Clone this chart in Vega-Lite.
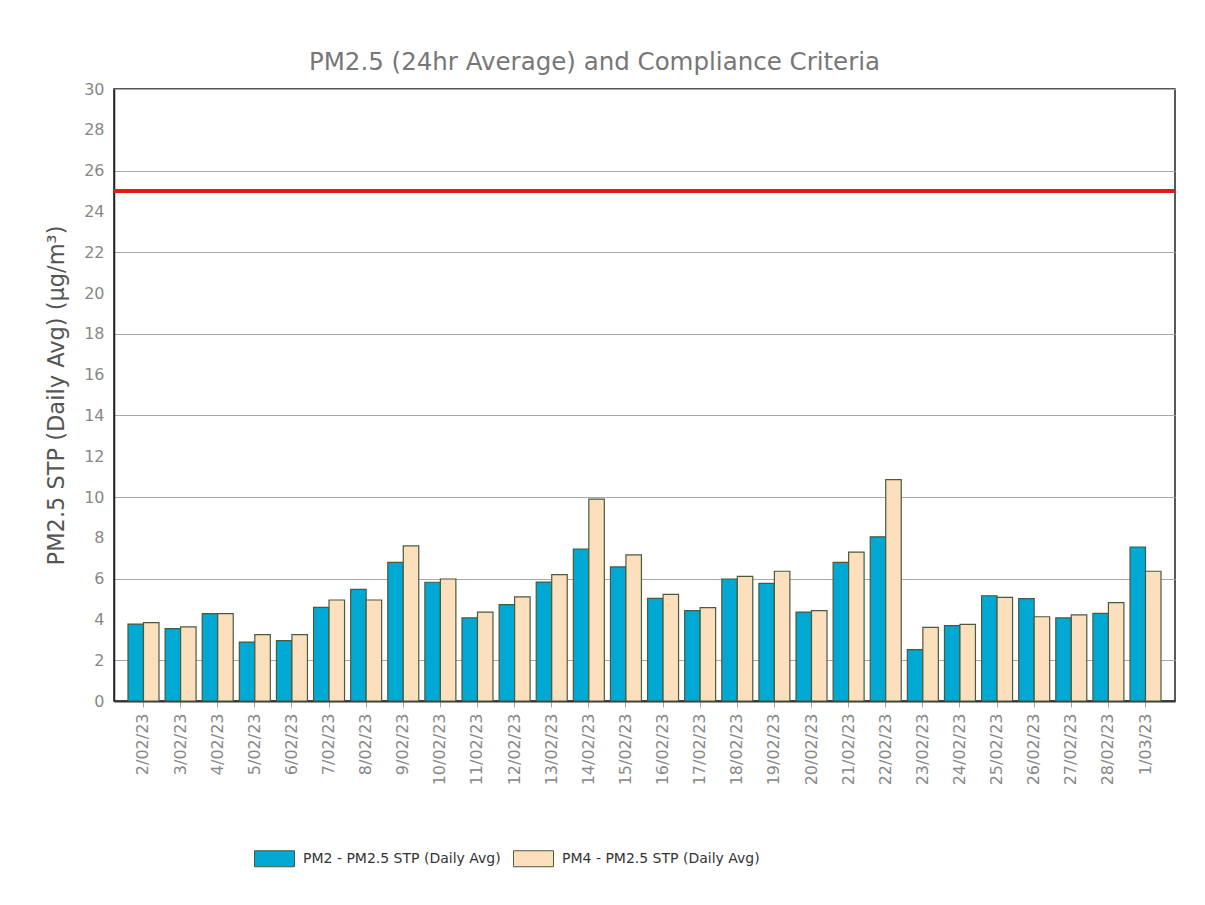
{
  "$schema": "https://vega.github.io/schema/vega-lite/v6.json",
  "width": 1061,
  "height": 612,
  "autosize": {"type": "none"},
  "padding": {"left": 114, "top": 89, "right": 30, "bottom": 204},
  "background": "white",
  "config": {
    "font": "DejaVu Sans",
    "view": {"stroke": "#222222", "strokeWidth": 1.5}
  },
  "title": {
    "text": "PM2.5 (24hr Average) and Compliance Criteria",
    "fontSize": 24.5,
    "fontWeight": "normal",
    "color": "#777777",
    "anchor": "middle",
    "offset": 6,
    "dx": -50
  },
  "data": {
    "values": [
      {"date": "2/02/23", "series": "PM2 - PM2.5 STP (Daily Avg)", "value": 3.77},
      {"date": "2/02/23", "series": "PM4 - PM2.5 STP (Daily Avg)", "value": 3.84},
      {"date": "3/02/23", "series": "PM2 - PM2.5 STP (Daily Avg)", "value": 3.55},
      {"date": "3/02/23", "series": "PM4 - PM2.5 STP (Daily Avg)", "value": 3.63},
      {"date": "4/02/23", "series": "PM2 - PM2.5 STP (Daily Avg)", "value": 4.28},
      {"date": "4/02/23", "series": "PM4 - PM2.5 STP (Daily Avg)", "value": 4.28},
      {"date": "5/02/23", "series": "PM2 - PM2.5 STP (Daily Avg)", "value": 2.89},
      {"date": "5/02/23", "series": "PM4 - PM2.5 STP (Daily Avg)", "value": 3.25},
      {"date": "6/02/23", "series": "PM2 - PM2.5 STP (Daily Avg)", "value": 2.96},
      {"date": "6/02/23", "series": "PM4 - PM2.5 STP (Daily Avg)", "value": 3.25},
      {"date": "7/02/23", "series": "PM2 - PM2.5 STP (Daily Avg)", "value": 4.59},
      {"date": "7/02/23", "series": "PM4 - PM2.5 STP (Daily Avg)", "value": 4.95},
      {"date": "8/02/23", "series": "PM2 - PM2.5 STP (Daily Avg)", "value": 5.47},
      {"date": "8/02/23", "series": "PM4 - PM2.5 STP (Daily Avg)", "value": 4.95},
      {"date": "9/02/23", "series": "PM2 - PM2.5 STP (Daily Avg)", "value": 6.8},
      {"date": "9/02/23", "series": "PM4 - PM2.5 STP (Daily Avg)", "value": 7.6},
      {"date": "10/02/23", "series": "PM2 - PM2.5 STP (Daily Avg)", "value": 5.82},
      {"date": "10/02/23", "series": "PM4 - PM2.5 STP (Daily Avg)", "value": 5.98},
      {"date": "11/02/23", "series": "PM2 - PM2.5 STP (Daily Avg)", "value": 4.07},
      {"date": "11/02/23", "series": "PM4 - PM2.5 STP (Daily Avg)", "value": 4.36},
      {"date": "12/02/23", "series": "PM2 - PM2.5 STP (Daily Avg)", "value": 4.72},
      {"date": "12/02/23", "series": "PM4 - PM2.5 STP (Daily Avg)", "value": 5.1},
      {"date": "13/02/23", "series": "PM2 - PM2.5 STP (Daily Avg)", "value": 5.83},
      {"date": "13/02/23", "series": "PM4 - PM2.5 STP (Daily Avg)", "value": 6.19},
      {"date": "14/02/23", "series": "PM2 - PM2.5 STP (Daily Avg)", "value": 7.45},
      {"date": "14/02/23", "series": "PM4 - PM2.5 STP (Daily Avg)", "value": 9.9},
      {"date": "15/02/23", "series": "PM2 - PM2.5 STP (Daily Avg)", "value": 6.57},
      {"date": "15/02/23", "series": "PM4 - PM2.5 STP (Daily Avg)", "value": 7.16},
      {"date": "16/02/23", "series": "PM2 - PM2.5 STP (Daily Avg)", "value": 5.03},
      {"date": "16/02/23", "series": "PM4 - PM2.5 STP (Daily Avg)", "value": 5.23},
      {"date": "17/02/23", "series": "PM2 - PM2.5 STP (Daily Avg)", "value": 4.43},
      {"date": "17/02/23", "series": "PM4 - PM2.5 STP (Daily Avg)", "value": 4.58},
      {"date": "18/02/23", "series": "PM2 - PM2.5 STP (Daily Avg)", "value": 5.98},
      {"date": "18/02/23", "series": "PM4 - PM2.5 STP (Daily Avg)", "value": 6.11},
      {"date": "19/02/23", "series": "PM2 - PM2.5 STP (Daily Avg)", "value": 5.77},
      {"date": "19/02/23", "series": "PM4 - PM2.5 STP (Daily Avg)", "value": 6.36},
      {"date": "20/02/23", "series": "PM2 - PM2.5 STP (Daily Avg)", "value": 4.36},
      {"date": "20/02/23", "series": "PM4 - PM2.5 STP (Daily Avg)", "value": 4.43},
      {"date": "21/02/23", "series": "PM2 - PM2.5 STP (Daily Avg)", "value": 6.8},
      {"date": "21/02/23", "series": "PM4 - PM2.5 STP (Daily Avg)", "value": 7.3},
      {"date": "22/02/23", "series": "PM2 - PM2.5 STP (Daily Avg)", "value": 8.05},
      {"date": "22/02/23", "series": "PM4 - PM2.5 STP (Daily Avg)", "value": 10.85},
      {"date": "23/02/23", "series": "PM2 - PM2.5 STP (Daily Avg)", "value": 2.52},
      {"date": "23/02/23", "series": "PM4 - PM2.5 STP (Daily Avg)", "value": 3.61},
      {"date": "24/02/23", "series": "PM2 - PM2.5 STP (Daily Avg)", "value": 3.69},
      {"date": "24/02/23", "series": "PM4 - PM2.5 STP (Daily Avg)", "value": 3.76},
      {"date": "25/02/23", "series": "PM2 - PM2.5 STP (Daily Avg)", "value": 5.16},
      {"date": "25/02/23", "series": "PM4 - PM2.5 STP (Daily Avg)", "value": 5.08},
      {"date": "26/02/23", "series": "PM2 - PM2.5 STP (Daily Avg)", "value": 5.02},
      {"date": "26/02/23", "series": "PM4 - PM2.5 STP (Daily Avg)", "value": 4.13},
      {"date": "27/02/23", "series": "PM2 - PM2.5 STP (Daily Avg)", "value": 4.07},
      {"date": "27/02/23", "series": "PM4 - PM2.5 STP (Daily Avg)", "value": 4.22},
      {"date": "28/02/23", "series": "PM2 - PM2.5 STP (Daily Avg)", "value": 4.3},
      {"date": "28/02/23", "series": "PM4 - PM2.5 STP (Daily Avg)", "value": 4.82},
      {"date": "1/03/23", "series": "PM2 - PM2.5 STP (Daily Avg)", "value": 7.55},
      {"date": "1/03/23", "series": "PM4 - PM2.5 STP (Daily Avg)", "value": 6.36}
    ]
  },
  "layer": [
    {
      "mark": {"type": "bar", "stroke": "#4a5a3c", "strokeWidth": 1.2},
      "encoding": {
        "x": {
          "field": "date",
          "type": "nominal",
          "sort": null,
          "scale": {"paddingInner": 0.165, "paddingOuter": 0.377},
          "axis": {
            "title": null,
            "labelAngle": 270,
            "labelFontSize": 16,
            "labelColor": "#888888",
            "labelPadding": 6,
            "tickSize": 6,
            "tickColor": "#9aa89a",
            "domainColor": "#333333",
            "domainWidth": 2,
            "grid": false
          }
        },
        "xOffset": {"field": "series", "type": "nominal"},
        "y": {
          "field": "value",
          "type": "quantitative",
          "scale": {"domain": [0, 30], "nice": false},
          "axis": {
            "title": "PM2.5 STP (Daily Avg) (µg/m³)",
            "titleFontSize": 22.5,
            "titleFontWeight": "normal",
            "titleColor": "#555555",
            "titlePadding": 15,
            "values": [0, 2, 4, 6, 8, 10, 12, 14, 16, 18, 20, 22, 24, 26, 28, 30],
            "labelFontSize": 16,
            "labelColor": "#888888",
            "labelPadding": 10,
            "ticks": false,
            "domainColor": "#222222",
            "domainWidth": 1.5,
            "grid": true,
            "gridColor": "#a8a8a8",
            "gridWidth": 1,
            "gridOpacity": {"condition": {"test": "datum.value % 4 === 2", "value": 1}, "value": 0}
          }
        },
        "color": {
          "field": "series",
          "type": "nominal",
          "scale": {"range": ["#00A9D4", "#FCE0BE"]},
          "legend": {
            "title": null,
            "orient": "none",
            "direction": "horizontal",
            "legendX": 140,
            "legendY": 749,
            "symbolType": "M-1,-0.4H1V0.4H-1Z",
            "symbolSize": 1600,
            "symbolStrokeColor": "#4a5a3c",
            "symbolStrokeWidth": 1,
            "symbolOpacity": 1,
            "labelFontSize": 14,
            "labelLimit": 0,
            "labelColor": "#333333",
            "labelOffset": 8,
            "columnPadding": 10
          }
        }
      }
    },
    {
      "mark": {"type": "rule", "color": "#e21a1a", "strokeWidth": 3},
      "encoding": {"y": {"datum": 25}}
    }
  ]
}
